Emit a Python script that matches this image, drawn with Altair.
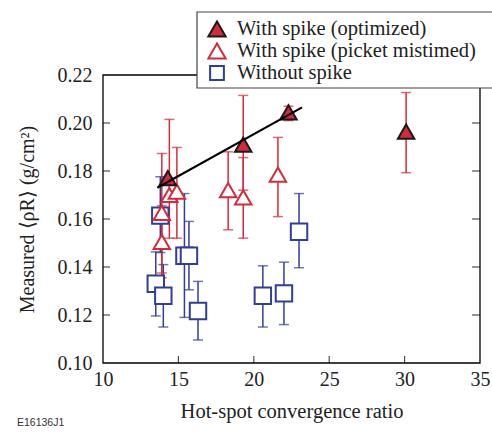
import altair as alt
import pandas as pd

# ---- data ----
opt_x = [14.3, 19.3, 22.3, 30.1]
opt_y = [0.177, 0.191, 0.2044, 0.1964]
opt_lo = [0.177, 0.172, 0.201, 0.1793]
opt_hi = [0.177, 0.2115, 0.207, 0.2127]

mis_x = [13.9, 13.9, 14.4, 14.9, 18.3, 19.3, 21.6]
mis_y = [0.1505, 0.1626, 0.170, 0.1714, 0.172, 0.169, 0.1785]
mis_lo = [0.1355, 0.1375, 0.152, 0.152, 0.1555, 0.152, 0.161]
mis_hi = [0.1655, 0.1873, 0.2015, 0.1898, 0.188, 0.1856, 0.194]

wo_x = [13.5, 14.0, 13.8, 15.4, 15.7, 16.3, 20.6, 22.0, 23.0]
wo_y = [0.133, 0.128, 0.1614, 0.1447, 0.1447, 0.1217, 0.128, 0.129, 0.1547]
wo_lo = [0.1196, 0.115, 0.146, 0.119, 0.1305, 0.1096, 0.115, 0.116, 0.1397]
wo_hi = [0.1463, 0.141, 0.1776, 0.1706, 0.159, 0.134, 0.1405, 0.142, 0.1706]

fit_x = [13.6, 23.2]
fit_y = [0.173, 0.2065]

series_names = ["With spike (optimized)", "With spike (picket mistimed)", "Without spike"]
x_ticks = [10, 15, 20, 25, 30, 35]
y_ticks = [0.10, 0.12, 0.14, 0.16, 0.18, 0.20, 0.22]

RED = "#d42a3a"
BLUE = "#323d96"
FONT = "Liberation Serif"

# rows drawn bottom-to-top: squares first, filled triangles last
rows = []
for name, xs_, ys_, los, his in [
    (series_names[2], wo_x, wo_y, wo_lo, wo_hi),
    (series_names[1], mis_x, mis_y, mis_lo, mis_hi),
    (series_names[0], opt_x, opt_y, opt_lo, opt_hi),
]:
    for a, b, c, d in zip(xs_, ys_, los, his):
        rows.append({"x": a, "y": b, "lo": c, "hi": d, "series": name})
df = pd.DataFrame(rows)
fit_df = pd.DataFrame({"x": fit_x, "y": fit_y})

W, H = 377, 288

xs = alt.Scale(domain=[10, 35], nice=False)
ys = alt.Scale(domain=[0.10, 0.22], nice=False)

shape_scale = alt.Scale(domain=series_names, range=["triangle-up", "triangle-up", "square"])
fill_scale = alt.Scale(domain=series_names, range=[RED, "white", "white"])
stroke_scale = alt.Scale(domain=series_names, range=["#1a1a1a", RED, BLUE])
bar_color = alt.Color("series:N", scale=alt.Scale(domain=series_names, range=[RED, RED, BLUE]), legend=None)

base = alt.Chart(df)

err_rule = base.mark_rule(strokeWidth=1.5).encode(
    x=alt.X("x:Q", scale=xs, axis=alt.Axis(title="Hot-spot convergence ratio", values=x_ticks, format="d",
                                           ticks=False, tickSize=0, domain=False, grid=False, labelFlush=False,
                                           labelFont=FONT, labelFontSize=20, labelPadding=6,
                                           labelColor="#222", titleFont=FONT, titleFontSize=20.5,
                                           titleFontWeight="normal", titleColor="#222", titlePadding=12)),
    y=alt.Y("lo:Q", scale=ys, axis=alt.Axis(title="Measured ⟨ρR⟩ (g/cm²)", values=y_ticks, format=".2f",
                                            ticks=False, tickSize=0, domain=False, grid=False, labelFlush=False,
                                            labelFont=FONT, labelFontSize=20, labelPadding=11,
                                            labelColor="#222", titleFont=FONT, titleFontSize=20,
                                            titleFontWeight="normal", titleColor="#222", titlePadding=20)),
    y2="hi:Q",
    color=bar_color,
)

cap_lo = base.mark_tick(orient="horizontal", size=10, thickness=1.5).encode(
    x=alt.X("x:Q", scale=xs), y=alt.Y("lo:Q", scale=ys), color=bar_color)
cap_hi = base.mark_tick(orient="horizontal", size=10, thickness=1.5).encode(
    x=alt.X("x:Q", scale=xs), y=alt.Y("hi:Q", scale=ys), color=bar_color)

points = base.mark_point(size=270, strokeWidth=2, opacity=1).encode(
    x=alt.X("x:Q", scale=xs),
    y=alt.Y("y:Q", scale=ys),
    shape=alt.Shape("series:N", scale=shape_scale, legend=None),
    fill=alt.Fill("series:N", scale=fill_scale, legend=None),
    stroke=alt.Stroke("series:N", scale=stroke_scale, legend=None),
)

fit = alt.Chart(fit_df).mark_line(color="black", strokeWidth=2.2).encode(
    x=alt.X("x:Q", scale=xs), y=alt.Y("y:Q", scale=ys))

# frame and inward tick marks
one = pd.DataFrame({"k": [0]})
frame = alt.Chart(one).mark_rect(fill=None, stroke="black", strokeWidth=1.3).encode(
    x=alt.value(0), x2=alt.value(W), y=alt.value(0), y2=alt.value(H))

ytick_df = pd.DataFrame({"v": y_ticks[1:-1]})
xtick_df = pd.DataFrame({"v": x_ticks[1:-1]})
left_ticks = alt.Chart(ytick_df).mark_tick(orient="horizontal", size=7, thickness=1.2, color="black").encode(
    y=alt.Y("v:Q", scale=ys), x=alt.value(3.5))
right_ticks = alt.Chart(ytick_df).mark_tick(orient="horizontal", size=8, thickness=1.2, color="black").encode(
    y=alt.Y("v:Q", scale=ys), x=alt.value(W - 4))
bottom_ticks = alt.Chart(xtick_df).mark_tick(orient="vertical", size=7, thickness=1.2, color="black").encode(
    x=alt.X("v:Q", scale=xs), y=alt.value(H - 3.5))

# legend drawn by hand (box overlaps the top of the frame, as in the reference)
leg_box = alt.Chart(one).mark_rect(fill="white", stroke="#444", strokeWidth=1.2).encode(
    x=alt.value(94), x2=alt.value(420), y=alt.value(-63), y2=alt.value(13))
leg_rows_y = [-47, -25, -3]
leg_layers = []
leg_shapes = ["triangle-up", "triangle-up", "square"]
leg_fills = [RED, "white", "white"]
leg_strokes = ["#1a1a1a", RED, BLUE]
leg_sizes = [300, 300, 190]
for i, name in enumerate(series_names):
    d = pd.DataFrame({"label": [name]})
    leg_layers.append(
        alt.Chart(d).mark_point(shape=leg_shapes[i], size=leg_sizes[i], fill=leg_fills[i],
                                stroke=leg_strokes[i], strokeWidth=2, opacity=1, filled=False).encode(
            x=alt.value(114), y=alt.value(leg_rows_y[i] + 1))
    )
    leg_layers.append(
        alt.Chart(d).mark_text(align="left", baseline="middle", font=FONT, fontSize=20.5, color="#222").encode(
            text="label:N", x=alt.value(134), y=alt.value(leg_rows_y[i] + 1))
    )

label_df = pd.DataFrame({"t": ["E16136J1"]})
code_label = alt.Chart(label_df).mark_text(align="left", baseline="middle", font="Liberation Sans",
                                           fontSize=10.5, color="#333").encode(
    text="t:N", x=alt.value(-86), y=alt.value(348))

chart = alt.layer(
    err_rule, cap_lo, cap_hi, points, fit, frame, left_ticks, right_ticks, bottom_ticks,
    leg_box, *leg_layers, code_label
).properties(
    width=W, height=H,
    autosize=alt.AutoSizeParams(type="none"),
    padding={"left": 103, "top": 75, "right": 12, "bottom": 71},
    background="white",
).configure_view(
    stroke=None
)

chart.save("out.html", embed_options={"renderer": "svg", "actions": False})
